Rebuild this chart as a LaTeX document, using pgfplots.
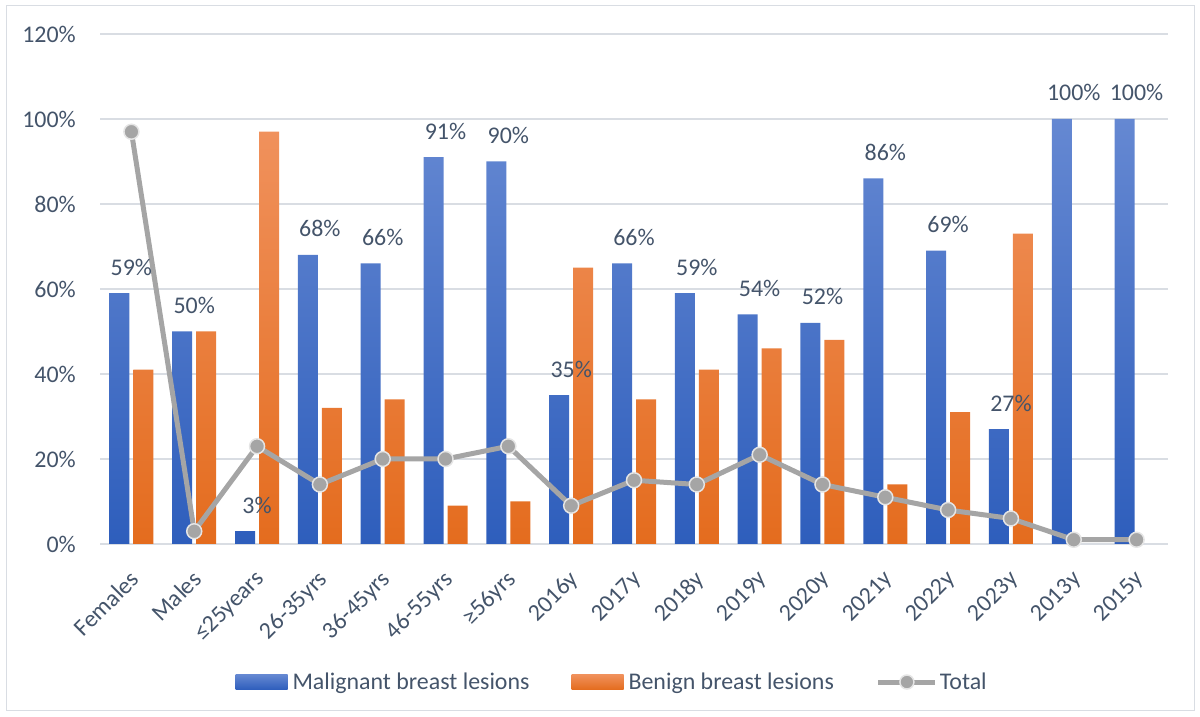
\documentclass[border=0pt]{standalone}
\usepackage{pgfplots}
\pgfplotsset{compat=1.18}
\usepackage{fontspec}
\setmainfont{Carlito}
\definecolor{blueT}{HTML}{6588D2}
\definecolor{blueB}{HTML}{2E5EBC}
\definecolor{orT}{HTML}{F0915C}
\definecolor{orB}{HTML}{E46C1E}
\definecolor{lgray}{HTML}{A5A5A5}
\definecolor{txt}{HTML}{44546A}
\definecolor{gridc}{HTML}{D9DDE3}
\newcommand{\lblfont}{\fontsize{24}{28}\selectfont}
\begin{document}
\begin{tikzpicture}
\useasboundingbox (0bp,0bp) rectangle (1200bp,717bp);
\draw[gridc, line width=1bp] (6bp,6bp) rectangle (1194bp,711bp);
\begin{axis}[
  at={(100bp,173bp)}, anchor=south west,
  scale only axis, width=1068bp, height=510bp,
  xmin=-0.5, xmax=16.5, ymin=0, ymax=120,
  enlargelimits=false, clip=false,
  ytick={0,20,...,120},
  yticklabels={0\%,20\%,40\%,60\%,80\%,100\%,120\%},
  xtick={0,...,16},
  xticklabels={Females,Males,≤25years,26-35yrs,36-45yrs,46-55yrs,≥56yrs,2016y,2017y,2018y,2019y,2020y,2021y,2022y,2023y,2013y,2015y},
  axis line style={draw=none}, major tick length=0pt,
  ymajorgrids, grid style={gridc, line width=1.3bp},
  ticklabel style={font=\lblfont, text=txt},
  yticklabel style={anchor=east, inner sep=0pt, xshift=-24bp},
  xticklabel style={xshift=-3bp, yshift=-25bp, rotate=45, anchor=north east, inner sep=0pt},
  legend style={at={(0.4795,-0.2706)}, anchor=center, draw=none, fill=none,
    legend columns=3, font=\lblfont, text=txt, inner sep=0pt,
    nodes={inner sep=2bp},
    /tikz/every even column/.append style={column sep=40bp}},
]
\addplot[ybar, bar width=20bp, bar shift=-12bp, draw=none,
  top color=blueT, bottom color=blueB,
  nodes near coords={\pgfmathprintnumber[assume math mode=true]{\pgfplotspointmeta}\%},
  every node near coord/.append style={font=\lblfont, text=txt, anchor=base, inner sep=0pt, yshift=18bp},
  legend image code/.code={\shade[top color=blueT, bottom color=blueB] (0bp,-7.5bp) rectangle (52bp,7.5bp);
    \path (0bp,0bp) -- (55bp,0bp);}]
coordinates {(0,59)(1,50)(2,3)(3,68)(4,66)(5,91)(6,90)(7,35)(8,66)(9,59)(10,54)(11,52)(12,86)(13,69)(14,27)(15,100)(16,100)};
\addlegendentry{Malignant breast lesions}
\addplot[ybar, bar width=20bp, bar shift=12bp, draw=none,
  top color=orT, bottom color=orB,
  legend image code/.code={\shade[top color=orT, bottom color=orB] (0bp,-7.5bp) rectangle (52bp,7.5bp);
    \path (0bp,0bp) -- (55bp,0bp);}]
coordinates {(0,41)(1,50)(2,97)(3,32)(4,34)(5,9)(6,10)(7,65)(8,34)(9,41)(10,46)(11,48)(12,14)(13,31)(14,73)};
\addlegendentry{Benign breast lesions}
\addplot[lgray, line width=5bp, mark=*, mark size=7.5bp,
  mark options={fill=lgray, draw=white!90!black, line width=1.5bp},
  legend image code/.code={\draw[lgray, line width=5bp] (0bp,0bp) -- (57bp,0bp);
    \filldraw[fill=lgray, draw=white!90!black, line width=1.5bp] (28.5bp,0bp) circle (7bp);}]
coordinates {(0,97)(1,3)(2,23)(3,14)(4,20)(5,20)(6,23)(7,9)(8,15)(9,14)(10,21)(11,14)(12,11)(13,8)(14,6)(15,1)(16,1)};
\addlegendentry{Total}
\end{axis}
\end{tikzpicture}
\end{document}
